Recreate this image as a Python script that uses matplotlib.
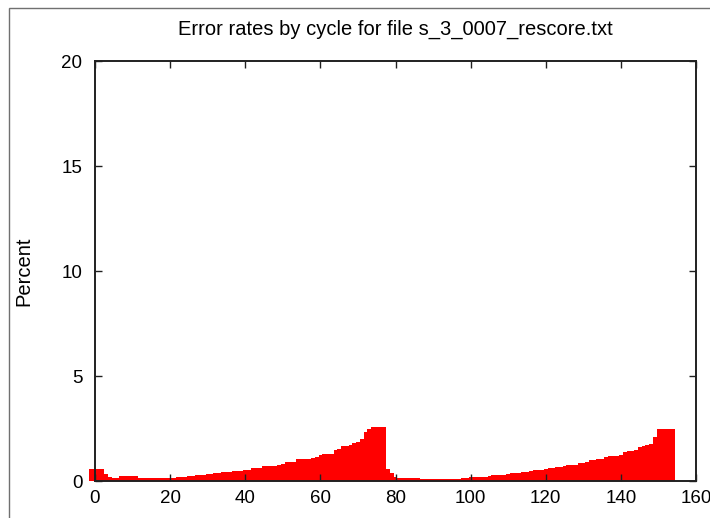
import matplotlib
matplotlib.use("Agg")
import matplotlib.pyplot as plt
from matplotlib.patches import Rectangle

plt.rcParams["font.family"] = ["Liberation Sans", "DejaVu Sans"]

# cycle numbers and error percentage per cycle (read 1: -1..77, read 2: 78..154)
cycles = list(range(-1, 155))
error_pct = [
    0.60, 0.60, 0.60, 0.58, 0.35, 0.20, 0.18, 0.18, 0.28, 0.28,
    0.28, 0.27, 0.27, 0.16, 0.16, 0.15, 0.15, 0.15, 0.15, 0.15,
    0.16, 0.17, 0.18, 0.19, 0.21, 0.23, 0.25, 0.27, 0.29, 0.31,
    0.33, 0.35, 0.37, 0.39, 0.41, 0.43, 0.45, 0.47, 0.50, 0.51,
    0.52, 0.53, 0.55, 0.63, 0.64, 0.66, 0.73, 0.74, 0.74, 0.75,
    0.77, 0.83, 0.92, 0.94, 0.95, 1.05, 1.06, 1.07, 1.08, 1.10,
    1.18, 1.27, 1.29, 1.30, 1.32, 1.52, 1.55, 1.67, 1.69, 1.72,
    1.84, 1.86, 2.00, 2.37, 2.52, 2.60, 2.60, 2.60, 2.60,
    0.58, 0.42, 0.23, 0.18, 0.17, 0.17, 0.16, 0.16,
    0.15, 0.14, 0.14, 0.14, 0.13, 0.13, 0.13, 0.13, 0.14, 0.14,
    0.14, 0.14, 0.15, 0.15, 0.19, 0.20, 0.20, 0.21, 0.22, 0.28,
    0.30, 0.31, 0.32, 0.33, 0.34, 0.40, 0.41, 0.42, 0.43, 0.45,
    0.52, 0.54, 0.55, 0.57, 0.58, 0.65, 0.66, 0.67, 0.69, 0.76,
    0.77, 0.78, 0.80, 0.87, 0.89, 0.91, 1.02, 1.04, 1.05, 1.07,
    1.17, 1.19, 1.21, 1.23, 1.26, 1.40, 1.43, 1.46, 1.50, 1.66,
    1.70, 1.74, 1.80, 2.13, 2.48, 2.48, 2.48, 2.48, 2.48,
]
x_ticks = [0, 20, 40, 60, 80, 100, 120, 140, 160]
y_ticks = [0, 5, 10, 15, 20]

fig = plt.figure(figsize=(7.10, 5.18), dpi=100)
ax = fig.add_axes([0.1338, 0.0705, 0.8465, 0.8115])

ax.bar(cycles, error_pct, width=1.0, color="#ff0000", linewidth=0,
       clip_on=False, zorder=1)

ax.set_xlim(0, 160)
ax.set_ylim(0, 20)
ax.set_xticks(x_ticks)
ax.set_yticks(y_ticks)
ax.tick_params(direction="in", top=True, right=True, length=5, width=1,
               labelsize=13.5, color="#202020")
ax.tick_params(axis="x", pad=6)
ax.tick_params(axis="y", pad=9)
for s in ax.spines.values():
    s.set_linewidth(1.4)
    s.set_color("#202020")
    s.set_zorder(3)

ax.set_title("Error rates by cycle for file s_3_0007_rescore.txt",
             fontsize=14.5, pad=19)
ax.set_ylabel("Percent", fontsize=14.5, labelpad=20)

# thin window frame round the figure
fig.patches.append(Rectangle((9 / 710, -0.1), 2, 1 - 8 / 518 + 0.1,
                             transform=fig.transFigure, fill=False,
                             edgecolor="#707070", linewidth=1))

fig.savefig("out.png", dpi=100)
